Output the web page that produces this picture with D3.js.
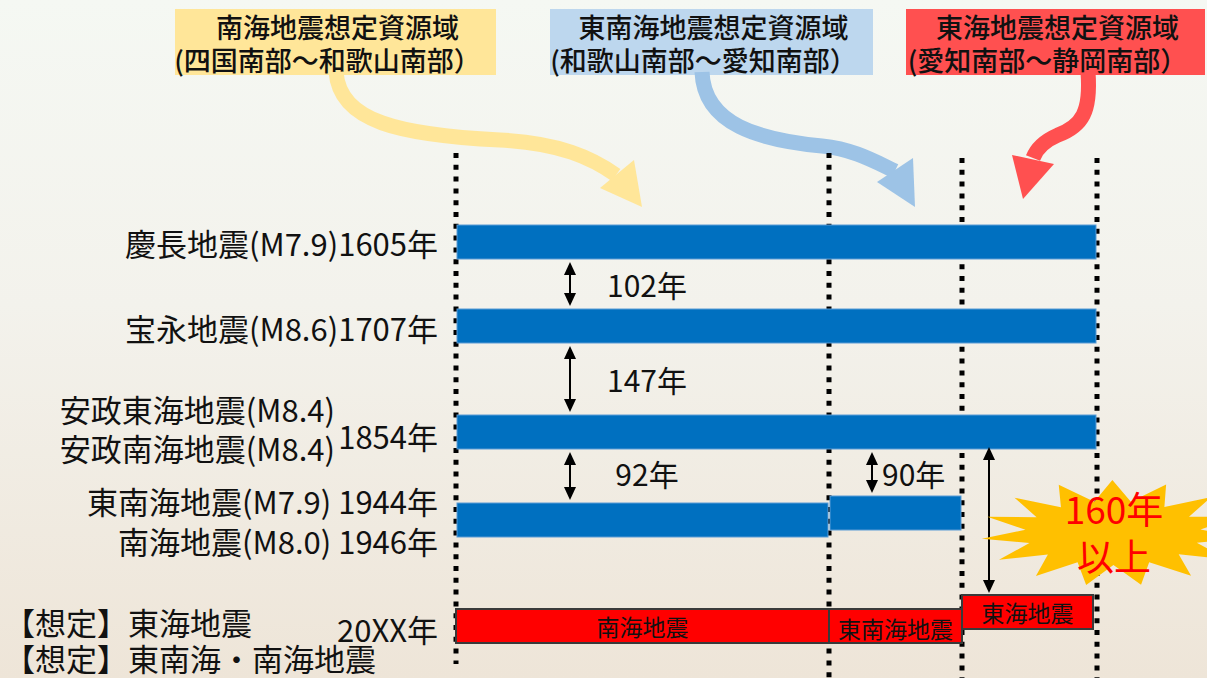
<!DOCTYPE html>
<html><head><meta charset="utf-8">
<script src="https://cdn.jsdelivr.net/npm/d3@7"></script>
<style>body{margin:0;overflow:hidden;background:#fff} svg{display:block}</style>
</head><body><svg id="c" width="1207" height="678"></svg>
<script>
// ---------- data ----------
const regionEdges = [0, 1, 2, 3];               // 南海 | 東南海 | 東海 boundaries
const headerTitles = ["南海地震想定資源域", "東南海地震想定資源域", "東海地震想定資源域"];
const headerSubs = ["(四国南部～和歌山南部）", "(和歌山南部～愛知南部）", "(愛知南部～静岡南部）"];
const eventYears = [1605, 1707, 1854, 1944, 1946];
const eventFrom = [0, 0, 0, 1, 0];
const eventTo = [3, 3, 3, 2, 1];
const intervalFrom = [1605, 1707, 1854, 1854];
const intervalTo = [1707, 1854, 1946, 1944];
const intervalLabels = ["102年", "147年", "92年", "90年"];
const futureNames = ["南海地震", "東南海地震", "東海地震"];
const futureFrom = [0, 1, 2];
const futureTo = [1, 2, 3];
const futureOrder = [1, 1, 0];
const bigGapLabel = ["160年", "以上"];

// ---------- setup ----------
const W = 1207, H = 678;
const svg = d3.select("#c");
const FONT = "'Noto Sans CJK JP','Noto Sans',sans-serif";

const defs = svg.append("defs");
const bg = defs.append("linearGradient").attr("id", "bg").attr("x1", 0).attr("y1", 0).attr("x2", 0).attr("y2", 1);
[["0", "#f5f8f3"], ["0.45", "#f3f2ec"], ["1", "#eee5d8"]].forEach(([o, c]) => bg.append("stop").attr("offset", o).attr("stop-color", c));
svg.append("rect").attr("width", W).attr("height", H).attr("fill", "url(#bg)");

const x = d3.scaleLinear().domain(regionEdges).range([456, 829, 962, 1097]);
const y = d3.scaleLinear().domain(eventYears).range([225, 309, 415, 496, 503]);
const yF = d3.scaleLinear().domain([0, 1]).range([595, 609]);
const barH = 34;

// multi-line text helper (one <text>, several <tspan>)
function mtext(lines, opts) {
  const t = svg.append("text").attr("text-anchor", opts.anchor || "end").attr("dominant-baseline", "central")
    .attr("font-family", FONT).attr("font-size", opts.size).attr("fill", opts.fill || "#111");
  if (opts.weight) t.attr("font-weight", opts.weight);
  lines.forEach(l => t.append("tspan").attr("x", l[1]).attr("y", l[2]).text(l[0]));
  return t;
}

// ---------- header boxes ----------
const boxX = [[175, 496], [550, 873], [906, 1205]];
const boxFill = ["#ffe699", "#bdd7ee", "#ff5050"];
headerTitles.forEach((t, i) => {
  const [a, b] = boxX[i];
  svg.append("rect").attr("x", a).attr("y", 9).attr("width", b - a).attr("height", 66)
    .attr("fill", boxFill[i]);
  mtext([[t, (a + b) / 2 + 2, 26], [headerSubs[i], (a + b) / 2 - 8, 59]], {anchor: "middle", size: 27, weight: 500});
});

// ---------- curved arrows ----------
const arrows = [
  {c: "#ffe699", d: "M336,72 C340,122 400,135 500,140 C560,143 592,158 616,175", h: [[600, 188], [634, 160], [642, 207]]},
  {c: "#9dc3e6", d: "M702,72 C704,125 760,140 822,146 C852,149 872,160 895,171", h: [[877, 182], [913, 158], [915, 207]]},
  {c: "#ff5050", d: "M1088,72 C1091,112 1082,126 1058,135 C1042,142 1036,150 1033,158", h: [[1012, 155], [1054, 164], [1023, 199]]}
];
arrows.forEach(a => {
  svg.append("path").attr("d", a.d).attr("fill", "none").attr("stroke", a.c).attr("stroke-width", 15);
  svg.append("path").attr("d", "M" + a.h.join("L") + "Z").attr("fill", a.c);
});

// ---------- dotted lines ----------
const lineY = [[153, 664], [153, 678], [158, 678], [158, 678]];
regionEdges.forEach((r, i) => {
  svg.append("line").attr("x1", x(r)).attr("x2", x(r)).attr("y1", lineY[i][0]).attr("y2", lineY[i][1])
    .attr("stroke", "#000").attr("stroke-width", 5).attr("stroke-dasharray", "5,6.8");
});

// ---------- historic bars ----------
svg.selectAll("rect.ev").data(eventYears).join("rect").attr("class", "ev")
  .attr("x", (d, i) => x(eventFrom[i]) + 1)
  .attr("width", (d, i) => x(eventTo[i]) - x(eventFrom[i]) - 2)
  .attr("y", d => y(d)).attr("height", barH)
  .attr("fill", "#0070c0").attr("stroke", "#5b9bd5").attr("stroke-width", 1);

// ---------- future bars ----------
futureNames.forEach((n, i) => {
  const x0 = x(futureFrom[i]), x1 = x(futureTo[i]) - (i === 2 ? 4 : 0);
  svg.append("rect").attr("x", x0).attr("y", yF(futureOrder[i])).attr("width", x1 - x0).attr("height", barH)
    .attr("fill", "#ff0000").attr("stroke", "#3a3a3a").attr("stroke-width", 2);
  svg.append("text").attr("x", (x0 + x1) / 2).attr("y", yF(futureOrder[i]) + barH / 2 + (i === 1 ? 2 : 0))
    .attr("text-anchor", "middle").attr("dominant-baseline", "central")
    .attr("font-family", FONT).attr("font-size", 23).attr("fill", "#111").text(n);
});

// ---------- double arrows ----------
function dblArrow(ax, y0, y1) {
  const g = svg.append("g");
  g.append("line").attr("x1", ax).attr("x2", ax).attr("y1", y0 + 8).attr("y2", y1 - 8).attr("stroke", "#000").attr("stroke-width", 2);
  g.append("path").attr("d", `M${ax},${y0} L${ax - 6},${y0 + 13} L${ax + 6},${y0 + 13} Z`).attr("fill", "#000");
  g.append("path").attr("d", `M${ax},${y1} L${ax - 6},${y1 - 13} L${ax + 6},${y1 - 13} Z`).attr("fill", "#000");
}
const arrowX = [570, 570, 570, 872];
intervalLabels.forEach((lab, i) => {
  const y0 = y(intervalFrom[i]) + barH + 3;
  const y1 = y(intervalTo[i]) - 3;
  dblArrow(arrowX[i], y0, y1);
  const isLast = i === 3;
  svg.append("text").attr("x", isLast ? 882 : 647).attr("y", (y0 + y(Math.min(intervalTo[i], 1944)) - 3) / 2)
    .attr("text-anchor", isLast ? "start" : "middle").attr("dominant-baseline", "central")
    .attr("font-family", FONT).attr("font-size", 30).attr("fill", "#111").text(lab);
});
dblArrow(989, y(1854) + barH - 2, yF(0) - 2);

// ---------- starburst ----------
const cx = 1113, cy = 533, n = 15;
const pts = d3.range(2 * n).map(i => {
  const a = i * Math.PI / n + 0.1;
  const outer = i % 2 === 0;
  const rx = outer ? 132 : 88, ry = outer ? 53 : 32;
  return [cx + rx * Math.cos(a), cy + ry * Math.sin(a)];
});
svg.append("path").attr("d", "M" + pts.join("L") + "Z").attr("fill", "#ffc000");
mtext([[bigGapLabel[0], 1114, 508], [bigGapLabel[1], 1114, 555]], {anchor: "middle", size: 37, fill: "#ff0000"});

// ---------- left labels ----------
const LBL = 31;
mtext([["慶長地震(M7.9)1605年", 438, y(1605) + barH / 2]], {size: LBL});
mtext([["宝永地震(M8.6)1707年", 438, y(1707) + barH / 2 + 1]], {size: LBL});
mtext([["安政東海地震(M8.4)", 335, 408], ["安政南海地震(M8.4)", 335, 447]], {size: LBL});
mtext([["1854年", 438, 435]], {size: LBL});
mtext([["東南海地震(M7.9) 1944年", 438, 500], ["南海地震(M8.0) 1946年", 438, 540]], {size: LBL});
mtext([["20XX年", 438, 628]], {size: LBL});
mtext([["【想定】東海地震", 4, 621], ["【想定】東南海・南海地震", 4, 657]], {size: LBL, anchor: "start"});
</script></body></html>
